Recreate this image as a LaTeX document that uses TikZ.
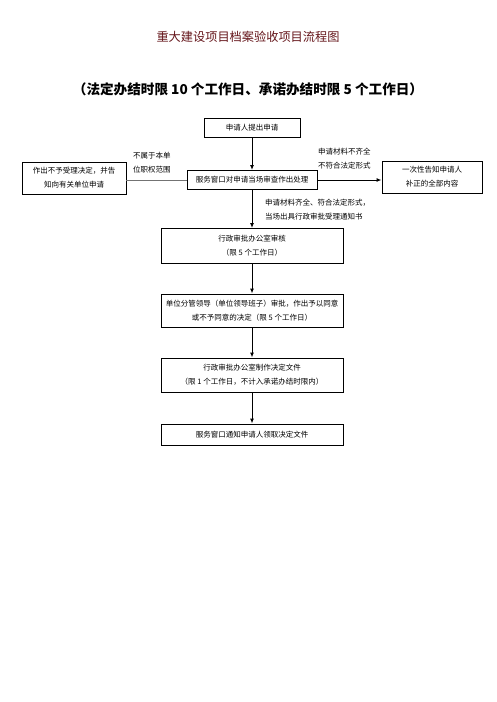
\documentclass[tikz,border=0pt]{standalone}
\usepackage{fontspec}
\setmainfont{Noto Sans CJK SC}
\usetikzlibrary{arrows.meta,positioning}
\definecolor{titlered}{RGB}{100,20,25}

\begin{document}
\begin{tikzpicture}[x=1pt,y=-1pt,
  box/.style={draw,line width=0.9pt,inner sep=2pt,font=\fontsize{7.5}{14}\selectfont,align=center},
  note/.style={font=\fontsize{7.5}{14}\selectfont,align=left,anchor=west,inner sep=0pt},
  arr/.style={line width=1pt,-{Latex[length=5pt,width=4pt]}},
  gline/.style={line width=1pt,black!55}]
\useasboundingbox (0,0) rectangle (496,702);
% Title
\node[font=\fontsize{12.2}{14}\selectfont,text=titlered] (title) at (248,37) {重大建设项目档案验收项目流程图};
\node[font=\bfseries\fontsize{13.6}{16}\selectfont] (period) at (248,89) {（法定办结时限 10 个工作日、承诺办结时限 5 个工作日）};
% Boxes
\node[box,minimum width=96pt,minimum height=19pt] (apply) at (252,128) {申请人提出申请};
\node[box,minimum width=130pt,minimum height=19pt] (service) at (252,180) {服务窗口对申请当场审查作出处理};
\node[box,minimum width=104pt,minimum height=32pt] (reject) at (74,178) {作出不予受理决定，并告\\知向有关单位申请};
\node[box,minimum width=100pt,minimum height=32pt] (supply) at (432,177) {一次性告知申请人\\补正的全部内容};
\node[box,minimum width=182pt,minimum height=35pt] (review) at (252,246) {行政审批办公室审核\\（限 5 个工作日）};
\node[box,minimum width=182pt,minimum height=33pt] (leader) at (252,310.5) {单位分管领导（单位领导班子）审批，作出予以同意\\或不予同意的决定（限 5 个工作日）};
\node[box,minimum width=182pt,minimum height=34pt] (decide) at (252,375) {行政审批办公室制作决定文件\\（限 1 个工作日，不计入承诺办结时限内）};
\node[box,minimum width=182pt,minimum height=21pt] (notify) at (252,434.5) {服务窗口通知申请人领取决定文件};
% Labels
\node[note] (outside) at (133,163) {不属于本单\\位职权范围};
\node[note] (lacking) at (318,159) {申请材料不齐全\\不符合法定形式};
\node[note] (accept) at (265,210) {申请材料齐全、符合法定形式，\\当场出具行政审批受理通知书};
% Connectors
\draw[arr] (apply) -- (service);
\draw[gline] (service) -- (service -| reject.east);
\draw[arr] (service) -- (service -| supply.west);
\draw[arr] (service) -- (review);
\draw[arr] (review) -- (leader);
\draw[arr] (leader) -- (decide);
\draw[arr] (decide) -- (notify);
\end{tikzpicture}
\end{document}
